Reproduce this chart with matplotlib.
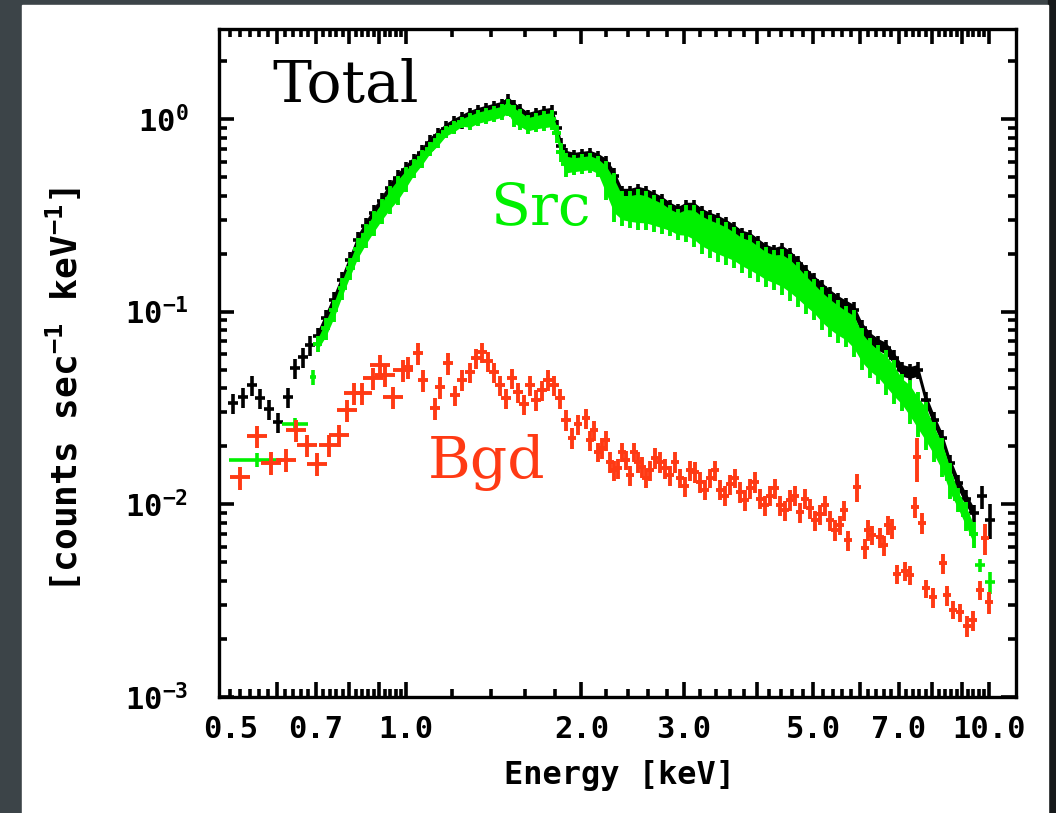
import numpy as np
import matplotlib
matplotlib.use("Agg")
import matplotlib.pyplot as plt
from matplotlib.patches import Rectangle
from matplotlib.ticker import FixedLocator, FuncFormatter, NullFormatter

# ---- data (keV, counts/s/keV) ----
tot_E = [0.505, 0.525, 0.544, 0.562, 0.582, 0.603, 0.627, 0.645, 0.666, 0.685,
         0.706, 0.729, 0.752, 0.777, 0.802, 0.827, 0.854, 0.881, 0.910, 0.939,
         0.969, 1.000, 1.032, 1.065, 1.099, 1.135, 1.171, 1.209, 1.248, 1.288,
         1.329, 1.372, 1.416, 1.461, 1.496, 1.532, 1.569, 1.619, 1.671, 1.725,
         1.780, 1.816, 1.845, 1.881, 1.942, 2.004, 2.069, 2.135, 2.204, 2.275,
         2.348, 2.423, 2.501, 2.581, 2.664, 2.749, 2.838, 2.929, 3.023, 3.119,
         3.219, 3.322, 3.429, 3.539, 3.652, 3.770, 3.891, 4.016, 4.145, 4.278,
         4.415, 4.557, 4.703, 4.854, 5.010, 5.171, 5.337, 5.508, 5.685, 5.867,
         6.056, 6.250, 6.451, 6.658, 6.871, 7.093, 7.320, 7.555, 7.797, 8.050,
         8.308, 8.574, 8.849, 9.131, 9.426, 9.727, 10.04]
tot_rate = [0.0335, 0.0360, 0.0415, 0.0356, 0.0312, 0.0267, 0.0360, 0.0509, 0.0581, 0.0670,
            0.0746, 0.0926, 0.1148, 0.1458, 0.1853, 0.2354, 0.2781, 0.3250, 0.3751, 0.4382,
            0.4938, 0.5435, 0.5981, 0.666, 0.7505, 0.816, 0.8873, 0.942, 0.988, 1.036,
            1.073, 1.100, 1.127, 1.154, 1.225, 1.140, 1.087, 1.012, 1.036, 1.061,
            1.074, 0.898, 0.724, 0.6425, 0.6274, 0.635, 0.6425, 0.6199, 0.5836, 0.5058,
            0.4079, 0.4079, 0.4178, 0.4079, 0.3888, 0.3707, 0.345, 0.3289, 0.345, 0.345,
            0.3211, 0.3061, 0.2954, 0.2815, 0.2652, 0.2469, 0.2411, 0.2244, 0.2088, 0.2014,
            0.2063, 0.1943, 0.1766, 0.1586, 0.1441, 0.1326, 0.1219, 0.1135, 0.1069, 0.1019,
            0.0822, 0.0729, 0.0678, 0.0647, 0.0574, 0.0497, 0.0485, 0.0497, 0.0348, 0.0274,
            0.0221, 0.0164, 0.0129, 0.0107, 0.00899, 0.0110, 0.0083]
tot_err = [0.0040, 0.0043, 0.0050, 0.0043, 0.0037, 0.0032, 0.0043, 0.0061, 0.0070, 0.0080,
           0.0075, 0.0093, 0.0115, 0.0146, 0.0185, 0.0235, 0.0278, 0.0325, 0.0375, 0.0438,
           0.049, 0.054, 0.060, 0.067, 0.075, 0.082, 0.089, 0.094, 0.099, 0.104,
           0.107, 0.110, 0.113, 0.115, 0.122, 0.114, 0.109, 0.101, 0.104, 0.106,
           0.107, 0.090, 0.072, 0.064, 0.063, 0.064, 0.064, 0.062, 0.058, 0.051,
           0.041, 0.041, 0.042, 0.041, 0.039, 0.037, 0.035, 0.033, 0.035, 0.035,
           0.032, 0.031, 0.030, 0.028, 0.027, 0.025, 0.024, 0.022, 0.021, 0.020,
           0.021, 0.019, 0.018, 0.016, 0.014, 0.013, 0.012, 0.011, 0.011, 0.010,
           0.0082, 0.0073, 0.0068, 0.0065, 0.0057, 0.0050, 0.0049, 0.0050, 0.0035, 0.0027,
           0.0022, 0.0016, 0.0013, 0.0011, 0.0009, 0.0015, 0.0017]

src_E = tot_E[10:95]
src_rate = [0.0682, 0.0819, 0.1016, 0.1321, 0.1678, 0.2110, 0.2493, 0.2899, 0.3345, 0.3850,
            0.4317, 0.4905, 0.5569, 0.6235, 0.7011, 0.7765, 0.8582, 0.9061, 0.961, 0.975,
            1.017, 1.041, 1.066, 1.092, 1.153, 1.045, 1.002, 0.942, 0.965, 0.983,
            0.995, 0.841, 0.674, 0.583, 0.581, 0.588, 0.595, 0.571, 0.4925, 0.408,
            0.3505, 0.3472, 0.349, 0.344, 0.331, 0.3186, 0.302, 0.288, 0.294, 0.287,
            0.266, 0.2535, 0.2435, 0.2332, 0.2217, 0.2073, 0.1996, 0.1875, 0.1753, 0.1691,
            0.1666, 0.1563, 0.1433, 0.1298, 0.119, 0.1072, 0.0985, 0.0917, 0.0862, 0.080,
            0.066, 0.0591, 0.0545, 0.050, 0.0446, 0.039, 0.0352, 0.0303, 0.0266, 0.0217,
            0.018, 0.0135, 0.0106, 0.0088, 0.0070]
src_err = [0.0065, 0.0107, 0.0133, 0.0173, 0.0220, 0.0301, 0.0355, 0.0430, 0.0497, 0.0639,
           0.0741, 0.0727, 0.0631, 0.0669, 0.0586, 0.0695, 0.0615, 0.0703, 0.063, 0.099,
           0.097, 0.099, 0.102, 0.104, 0.117, 0.137, 0.125, 0.107, 0.109, 0.117,
           0.118, 0.090, 0.076, 0.083, 0.069, 0.070, 0.071, 0.071, 0.113, 0.116,
           0.072, 0.076, 0.084, 0.079, 0.072, 0.066, 0.055, 0.053, 0.064, 0.071,
           0.067, 0.064, 0.063, 0.059, 0.053, 0.049, 0.050, 0.045, 0.041, 0.040,
           0.045, 0.043, 0.038, 0.033, 0.029, 0.027, 0.025, 0.023, 0.021, 0.022,
           0.016, 0.014, 0.0125, 0.013, 0.0115, 0.0085, 0.0091, 0.0079, 0.0075, 0.0051,
           0.0041, 0.0028, 0.0015, 0.0015, 0.0011]

# isolated wide-bin source points
src_x_E = [0.555, 0.645, 0.693, 9.652, 10.04]
src_x_rate = [0.0170, 0.0262, 0.0458, 0.00483, 0.00394]
src_x_err = [0.0014, 0.0020, 0.0040, 0.0004, 0.0005]
src_x_bin = [0.058, 0.033, 0.008, 0.19, 0.20]

bgd_E = [0.519, 0.555, 0.587, 0.623, 0.647, 0.676, 0.704, 0.738, 0.768, 0.792,
         0.814, 0.840, 0.878, 0.902, 0.920, 0.950, 0.988, 1.008, 1.048, 1.069,
         1.121, 1.144, 1.180, 1.213, 1.248, 1.288, 1.318, 1.350, 1.382, 1.416,
         1.450, 1.484, 1.520, 1.556, 1.594, 1.632, 1.671, 1.711, 1.752, 1.794,
         1.837, 1.881, 1.927, 1.972, 2.036, 2.102, 2.169, 2.239, 2.310, 2.384,
         2.461, 2.540, 2.621, 2.727, 2.838, 2.951, 3.070, 3.194, 3.322, 3.456,
         3.595, 3.740, 3.891, 4.048, 4.210, 4.380, 4.557, 4.740, 4.932, 5.130,
         5.337, 5.552, 5.729, 5.937, 6.130, 6.302, 6.501, 6.711, 6.954, 7.178,
         7.320, 7.467, 7.525, 7.676, 7.797, 8.015, 8.340, 8.472, 8.675, 8.919,
         9.169, 9.388, 9.652, 9.843, 10.0,
         # in-between bins, 2-7 keV
         2.069, 2.135, 2.204, 2.275, 2.348, 2.423, 2.501, 2.581, 2.674, 2.782,
         2.894, 3.010, 3.131, 3.258, 3.388, 3.525, 3.667, 3.815, 3.968, 4.128,
         4.294, 4.468, 4.648, 4.835, 5.029, 5.232, 5.442, 5.639, 6.202, 6.606, 6.817]
bgd_rate = [0.0138, 0.0226, 0.0164, 0.0170, 0.0243, 0.0202, 0.0162, 0.0202, 0.0229, 0.0308,
            0.0378, 0.0378, 0.0452, 0.0528, 0.0469, 0.0360, 0.0497, 0.0515, 0.0609, 0.0442,
            0.0316, 0.0406, 0.0540, 0.0369, 0.0442, 0.0486, 0.0574, 0.0617, 0.0553, 0.0486,
            0.0415, 0.0356, 0.0452, 0.0382, 0.0331, 0.0415, 0.0348, 0.0391, 0.0442, 0.0415,
            0.0356, 0.0274, 0.0221, 0.0261, 0.0280, 0.0243, 0.0196, 0.0166, 0.0154, 0.0170,
            0.0187, 0.0156, 0.0150, 0.0166, 0.0142, 0.0137, 0.0150, 0.0131, 0.0137, 0.0119,
            0.0127, 0.0116, 0.0121, 0.0107, 0.0111, 0.00988, 0.0105, 0.00909, 0.00954, 0.00887,
            0.00827, 0.00781, 0.00651, 0.0123, 0.00592, 0.00692, 0.00676, 0.00781, 0.00437, 0.00452,
            0.00431, 0.00965, 0.0176, 0.0080, 0.00366, 0.00329, 0.00494, 0.00337, 0.00284, 0.00275,
            0.00234, 0.00250, 0.00358, 0.00667, 0.00310,
            0.0215, 0.0187, 0.0215, 0.0150, 0.0187, 0.0142, 0.0166, 0.0137, 0.0174, 0.0154,
            0.0166, 0.0124, 0.0147, 0.0119, 0.0150, 0.0111, 0.0137, 0.0105, 0.0131, 0.00988,
            0.0121, 0.00932, 0.0111, 0.0107, 0.00827, 0.00988, 0.00735, 0.00932, 0.00735, 0.00612, 0.00752]
bgd_err = [0.0019, 0.0030, 0.0022, 0.0023, 0.0032, 0.0027, 0.0022, 0.0027, 0.0030, 0.0040,
           0.0049, 0.0049, 0.0059, 0.0069, 0.0061, 0.0047, 0.0065, 0.0067, 0.0079, 0.0057,
           0.0041, 0.0053, 0.0070, 0.0044, 0.0053, 0.0058, 0.0069, 0.0074, 0.0066, 0.0058,
           0.0050, 0.0043, 0.0054, 0.0046, 0.0040, 0.0050, 0.0042, 0.0047, 0.0053, 0.0050,
           0.0043, 0.0033, 0.0027, 0.0031, 0.0034, 0.0029, 0.0024, 0.0020, 0.0018, 0.0020,
           0.0022, 0.0019, 0.0018, 0.0020, 0.0017, 0.0016, 0.0018, 0.0016, 0.0016, 0.0014,
           0.0015, 0.0014, 0.0015, 0.0013, 0.0013, 0.0012, 0.0013, 0.0011, 0.0011, 0.0011,
           0.0010, 0.0009, 0.0008, 0.0020, 0.0007, 0.0008, 0.0008, 0.0009, 0.0005, 0.0005,
           0.0005, 0.0012, 0.0045, 0.0010, 0.0004, 0.0004, 0.0006, 0.0004, 0.0003, 0.0003,
           0.0003, 0.0003, 0.0004, 0.0012, 0.0004,
           0.0026, 0.0022, 0.0026, 0.0018, 0.0022, 0.0017, 0.0020, 0.0016, 0.0021, 0.0018,
           0.0020, 0.0015, 0.0018, 0.0014, 0.0018, 0.0013, 0.0016, 0.0013, 0.0016, 0.0012,
           0.0015, 0.0011, 0.0013, 0.0013, 0.0010, 0.0012, 0.0009, 0.0011, 0.0009, 0.0007, 0.0009]

xlabels = {0.5: "0.5", 0.7: "0.7", 1.0: "1.0", 2.0: "2.0", 3.0: "3.0",
           5.0: "5.0", 7.0: "7.0", 10.0: "10.0"}
ydecades = [1e-3, 1e-2, 1e-1, 1.0]

BLACK = "black"
GREEN = "#00f000"
RED = "#ff3a14"

plt.rcParams["font.family"] = ["DejaVu Sans Mono"]
plt.rcParams["font.weight"] = "bold"
plt.rcParams["mathtext.fontset"] = "custom"
plt.rcParams["mathtext.rm"] = "DejaVu Sans Mono:bold"
plt.rcParams["mathtext.bf"] = "DejaVu Sans Mono:bold"
plt.rcParams["mathtext.it"] = "DejaVu Sans Mono:bold"

W, H = 1056, 813
fig = plt.figure(figsize=(W / 100, H / 100), dpi=100, facecolor="#3c4448")
fig.patches.append(Rectangle((1048 / W, 0), 8 / W, 1, transform=fig.transFigure,
                             color="#16191b", zorder=-2))
fig.patches.append(Rectangle((22 / W, 0), (1048 - 22) / W, 1 - 5 / H,
                             transform=fig.transFigure, color="white", zorder=-1))

ax = fig.add_axes([219 / W, 1 - 697 / H, (1016 - 219) / W, (697 - 29) / H])
ax.set_xscale("log")
ax.set_yscale("log")
xmin, xmax = 0.478, 11.13
ax.set_xlim(xmin, xmax)
ax.set_ylim(1e-3, 2.93)

dex_px = np.log10(xmax / xmin) / (1016 - 219)


def xbar(E, px):
    E = np.asarray(E)
    px = np.broadcast_to(px, E.shape)
    return [E * (1 - 10 ** (-px * dex_px)), E * (10 ** (px * dex_px) - 1)]


def draw(E, rate, err, px, color, lw, z, band=None):
    E, rate, err = map(np.asarray, (E, rate, err))
    if band is not None:
        m = (E >= band[0]) & (E <= band[1])
        ax.fill_between(E[m], (rate - 0.7 * err)[m], (rate + 0.7 * err)[m],
                        color=color, lw=0, zorder=z)
    ax.errorbar(E, rate, yerr=err, xerr=xbar(E, px), fmt="none", ecolor=color,
                elinewidth=lw, capsize=0, zorder=z)


draw(tot_E, tot_rate, tot_err, 5, BLACK, 2.6, 2, band=(0.70, 9.5))
draw(src_E, src_rate, src_err, 4.5, GREEN, 2.8, 3, band=(0.70, 9.5))
ax.errorbar(src_x_E, src_x_rate, yerr=src_x_err, xerr=src_x_bin, fmt="none",
            ecolor=GREEN, elinewidth=2.6, capsize=0, zorder=3)
bE = np.asarray(bgd_E)
bpx = np.where(bE < 1.0, 10, np.where(bE < 1.9, 5, 4))
draw(bgd_E, bgd_rate, bgd_err, bpx, RED, 2.8, 4)

# axes frame
for s in ax.spines.values():
    s.set_linewidth(2.4)
    s.set_zorder(5)

# tick positions
xmaj = [0.6, 0.7, 0.8, 0.9] + list(range(1, 11))
xmin_t = [0.5] + [round(v, 2) for v in np.arange(0.52, 0.99, 0.02) if abs(v * 10 - round(v * 10)) > 1e-6] \
    + [round(v, 1) for v in np.arange(1.2, 9.9, 0.2) if abs(v - round(v)) > 1e-6]
ymin_t = [m * d for d in ydecades[:-1] for m in range(2, 10)] + [2.0]

ax.xaxis.set_major_locator(FixedLocator(xmaj))
ax.xaxis.set_minor_locator(FixedLocator(xmin_t))
ax.yaxis.set_major_locator(FixedLocator(ydecades))
ax.yaxis.set_minor_locator(FixedLocator(ymin_t))


def xfmt(v, pos):
    for k, s in xlabels.items():
        if abs(v - k) < 1e-6:
            return s
    return ""


ax.xaxis.set_major_formatter(FuncFormatter(xfmt))
ax.xaxis.set_minor_formatter(FuncFormatter(xfmt))
ax.yaxis.set_major_formatter(FuncFormatter(lambda v, p: r"$10^{%d}$" % round(np.log10(v))))
ax.yaxis.set_minor_formatter(NullFormatter())

ax.tick_params(axis="both", which="both", direction="in", bottom=True, top=True,
               left=True, right=True, color="black", width=2.6, labelsize=22,
               labelcolor="black", zorder=6)
ax.tick_params(axis="both", which="major", length=11)
ax.tick_params(axis="both", which="minor", length=6)
ax.tick_params(axis="x", which="both", pad=13)
ax.tick_params(axis="y", which="both", pad=22)

fig.text(0.0616, 0.5203, r"[counts sec$^{-1}$ keV$^{-1}$]", rotation=90,
         ha="center", va="center", fontsize=26)
fig.text(0.587, 0.0467, "Energy [keV]", ha="center", va="center", fontsize=23)

serif = dict(family="DejaVu Serif", weight="normal", fontsize=42, ha="left",
             va="baseline", transform=ax.transAxes, zorder=6)
ax.text(0.0665, 0.8907, "Total", color=BLACK, **serif)
ax.text(0.340, 0.7066, "Src", color=GREEN, **serif)
ax.text(0.2622, 0.3278, "Bgd", color=RED, **serif)

fig.savefig("out.png", dpi=100, facecolor=fig.get_facecolor())
